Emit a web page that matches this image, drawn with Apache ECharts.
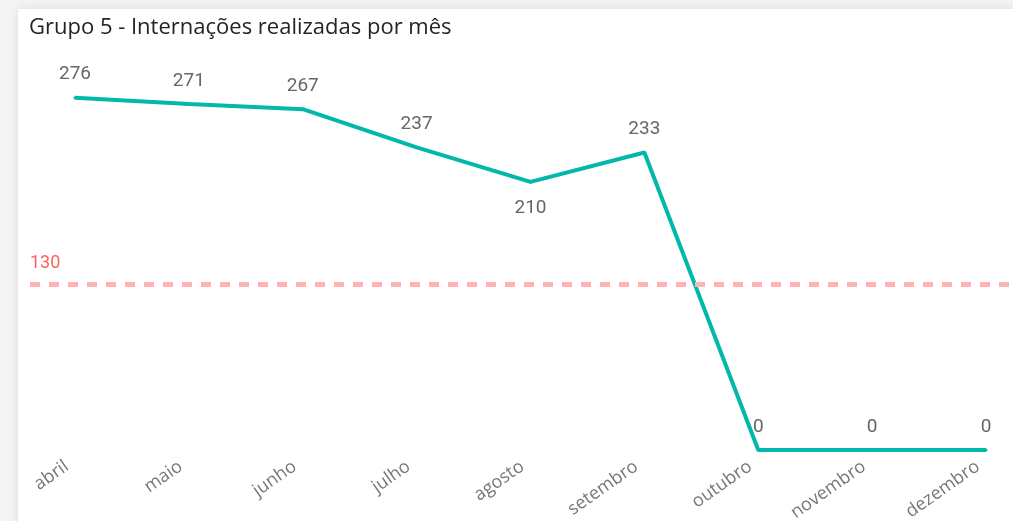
<!DOCTYPE html>
<html>
<head>
<meta charset="utf-8">
<script src="https://cdn.jsdelivr.net/npm/echarts@6/dist/echarts.min.js"></script>
<style>
	html, body { margin: 0; padding: 0; width: 1013px; height: 521px; overflow: hidden; background: #f4f4f4; }
	#card { position: absolute; left: 18px; top: 9px; width: 1010px; height: 520px; background: #fff; box-shadow: 0 0 10px rgba(0,0,0,0.10); }
	#chart { width: 995px; height: 512px; }
</style>
</head>
<body>
<div id="card"><div id="chart"></div></div>
<script>
	// meses e internações
	var meses = ['abril', 'maio', 'junho', 'julho', 'agosto', 'setembro', 'outubro', 'novembro', 'dezembro'];
	var internacoes = [276, 271, 267, 237, 210, 233, 0, 0, 0];
	var meta = 130;
	// rótulos que ficam embaixo do ponto
	var rotuloAbaixo = ['agosto'];

	var chart = echarts.init(document.getElementById('chart'));

	var pontos = internacoes.map(function (v, i) {
		var item = { value: v };
		if (rotuloAbaixo.indexOf(meses[i]) >= 0) {
			item.label = { position: 'bottom', distance: 15 };
		}
		return item;
	});

	var option = {
		animation: false,
		title: {
			text: 'Grupo 5 - Internações realizadas por mês',
			left: 6,
			top: 3,
			textStyle: {
				fontFamily: 'Open Sans',
				fontSize: 22,
				fontWeight: 'normal',
				color: '#252423'
			}
		},
		grid: {
			left: 57,
			right: 27,
			top: 58,
			bottom: 71,
			outerBoundsMode: 'none'
		},
		xAxis: {
			type: 'category',
			boundaryGap: false,
			data: meses,
			axisLine: { show: false },
			axisTick: { show: false },
			axisLabel: {
				rotate: 35,
				margin: 9,
				padding: [0, 10, 0, 0],
				fontFamily: 'Open Sans',
				fontSize: 18,
				color: '#777'
			}
		},
		yAxis: {
			type: 'value',
			min: 0,
			max: 300,
			show: false,
			splitLine: { show: false }
		},
		series: [{
			type: 'line',
			data: pontos,
			symbol: 'circle',
			symbolSize: 3,
			itemStyle: { color: '#01B8AA' },
			lineStyle: { color: '#01B8AA', width: 4 },
			label: {
				show: true,
				position: 'top',
				distance: 12,
				fontFamily: 'Roboto',
				fontSize: 19,
				color: '#666'
			},
			markLine: {
				silent: true,
				symbol: 'none',
				lineStyle: { color: '#FFB3B3', type: [10, 9], width: 5 },
				label: {
					position: 'insideStartTop',
					distance: [0, 12],
					formatter: String(meta),
					fontFamily: 'Roboto',
					fontSize: 18,
					color: '#FD625E'
				},
				data: [[{ x: 12, yAxis: meta }, { x: '100%', yAxis: meta }]]
			}
		}]
	};

	chart.setOption(option);
</script>
</body>
</html>
